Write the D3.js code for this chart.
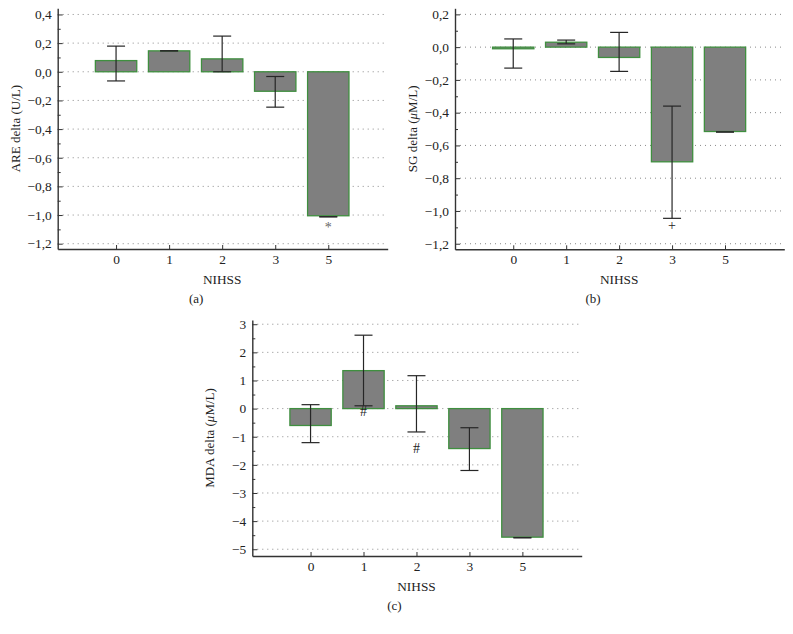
<!DOCTYPE html>
<html>
<head>
<meta charset="utf-8">
<script src="https://cdn.jsdelivr.net/npm/d3@7"></script>
<style>
  body { margin: 0; background: #fff; }
  text { font-family: "Liberation Serif", "DejaVu Serif", serif; }
</style>
</head>
<body>
<div id="vis"></div>
<script>
// categories on the x axis
const NIHSS = ["0", "1", "2", "3", "5"];

// ARE delta (U/L): bar value, error low, error high
const ARE_MEAN = [0.078, 0.146, 0.09, -0.136, -1.005];
const ARE_LOW  = [-0.064, 0.146, 0.0, -0.247, -1.012];
const ARE_HIGH = [0.179, 0.146, 0.249, -0.033, -1.012];
const ARE_MARK = ["", "", "", "", "*"];
const ARE_MARK_AT = [0, 0, 0, 0, -1.115];
const ARE_TICKS = [0.4, 0.2, 0.0, -0.2, -0.4, -0.6, -0.8, -1.0, -1.2];

// SG delta (uM/L)
const SG_MEAN = [-0.01, 0.03, -0.063, -0.70, -0.515];
const SG_LOW  = [-0.128, 0.02, -0.148, -1.045, -0.518];
const SG_HIGH = [0.05, 0.043, 0.09, -0.36, -0.518];
const SG_MARK = ["", "", "", "+", ""];
const SG_MARK_AT = [0, 0, 0, -1.116, 0];
const SG_TICKS = [0.2, 0.0, -0.2, -0.4, -0.6, -0.8, -1.0, -1.2];

// MDA delta (uM/L)
const MDA_MEAN = [-0.6, 1.35, 0.1, -1.42, -4.57];
const MDA_LOW  = [-1.21, 0.1, -0.83, -2.2, -4.59];
const MDA_HIGH = [0.14, 2.61, 1.17, -0.68, -4.59];
const MDA_MARK = ["", "#", "#", "", ""];
const MDA_MARK_AT = [0, -0.26, -1.58, 0, 0];
const MDA_TICKS = [3, 2, 1, 0, -1, -2, -3, -4, -5];

const W = 793, H = 634;
const BAR_W = 0.78;   // in category units
const CAP = 9;        // half width of error caps, px

const svg = d3.select("#vis").append("svg")
    .attr("width", W)
    .attr("height", H);

function fmt(v, dec) {
    return v.toFixed(dec).replace(".", ",").replace("-", "\u2212");
}

function drawPanel(p) {
    const X = d3.scaleLinear().domain([-1.1, 5.12]).range([p.left, p.right]);
    const Y = d3.scaleLinear().domain(p.ydom).range([p.bottom, p.top]);
    const g = svg.append("g");

    // dotted grid at the labelled ticks
    g.selectAll("line.grid")
        .data(p.ticks)
        .enter().append("line")
        .attr("class", "grid")
        .attr("x1", p.left).attr("x2", p.right)
        .attr("y1", (d) => Y(d)).attr("y2", (d) => Y(d))
        .attr("stroke", "#8a8a8a")
        .attr("stroke-width", 1)
        .attr("stroke-dasharray", "1,4");

    const rows = NIHSS.map((c, i) => ({i: i, m: p.mean[i], lo: p.low[i], hi: p.high[i],
                                        mark: p.mark[i], at: p.markAt[i]}));

    // bars
    g.selectAll("rect.bar")
        .data(rows)
        .enter().append("rect")
        .attr("class", "bar")
        .attr("x", (d) => X(d.i - BAR_W / 2))
        .attr("width", X(BAR_W) - X(0))
        .attr("y", (d) => Y(Math.max(0, d.m)))
        .attr("height", (d) => Math.max(1, Math.abs(Y(d.m) - Y(0))))
        .attr("fill", "#7f7f7f")
        .attr("stroke", "#3f8f3f")
        .attr("stroke-width", 1.3);

    // error bars
    const eb = g.selectAll("g.err").data(rows).enter().append("g").attr("class", "err")
        .attr("stroke", "#262626").attr("stroke-width", 1.2);
    eb.append("line")
        .attr("x1", (d) => X(d.i)).attr("x2", (d) => X(d.i))
        .attr("y1", (d) => Y(d.lo)).attr("y2", (d) => Y(d.hi));
    eb.append("line")
        .attr("x1", (d) => X(d.i) - CAP).attr("x2", (d) => X(d.i) + CAP)
        .attr("y1", (d) => Y(d.lo)).attr("y2", (d) => Y(d.lo));
    eb.append("line")
        .attr("x1", (d) => X(d.i) - CAP).attr("x2", (d) => X(d.i) + CAP)
        .attr("y1", (d) => Y(d.hi)).attr("y2", (d) => Y(d.hi));

    // significance marks
    g.selectAll("text.mark")
        .data(rows.filter((d) => d.mark != ""))
        .enter().append("text")
        .attr("class", "mark")
        .attr("x", (d) => X(d.i))
        .attr("y", (d) => Y(d.at))
        .attr("text-anchor", "middle")
        .attr("font-size", "14px")
        .attr("fill", (d) => d.mark == "*" ? "#666" : "#222")
        .text((d) => d.mark);

    // y axis, minor ticks then major
    const minor = d3.range(p.minor[0], p.minor[1] + 1e-9, p.minor[2]);
    g.append("g")
        .attr("transform", "translate(" + p.left + ",0)")
        .call(d3.axisLeft(Y).tickValues(minor).tickSize(-3).tickSizeOuter(0).tickFormat(""))
        .call((a) => a.select(".domain").remove())
        .selectAll("line").attr("stroke", "#333");
    const ya = g.append("g")
        .attr("transform", "translate(" + p.left + ",0)")
        .call(d3.axisLeft(Y).tickValues(p.ticks).tickSize(-5).tickSizeOuter(0).tickPadding(6)
            .tickFormat((d) => fmt(d, p.dec)));
    ya.select(".domain").attr("stroke", "#333").attr("stroke-width", 1.4);
    ya.selectAll("line").attr("stroke", "#333");
    ya.selectAll("text").attr("font-size", "13.4px").attr("fill", "#222")
        .style("font-family", "'Liberation Serif', serif");

    // x axis
    const xa = g.append("g")
        .attr("transform", "translate(0," + p.bottom + ")")
        .call(d3.axisBottom(X).tickValues(d3.range(NIHSS.length)).tickSize(-4).tickSizeOuter(0)
            .tickPadding(5).tickFormat((d) => NIHSS[d]));
    xa.select(".domain").attr("stroke", "#333").attr("stroke-width", 1.4);
    xa.selectAll("line").attr("stroke", "#333");
    xa.selectAll("text").attr("font-size", "13.4px").attr("fill", "#222")
        .style("font-family", "'Liberation Serif', serif");

    // titles
    const mid = X(2);
    g.append("text")
        .attr("x", mid).attr("y", p.bottom + 35)
        .attr("text-anchor", "middle")
        .attr("font-size", "13.3px").attr("fill", "#222")
        .text("NIHSS");
    g.append("text")
        .attr("x", mid + p.tagShift).attr("y", p.bottom + 54)
        .attr("text-anchor", "middle")
        .attr("font-size", "13px").attr("fill", "#222")
        .text(p.tag);

    const yt = g.append("text")
        .attr("transform", "translate(" + (p.left - 38) + "," + ((p.top + p.bottom) / 2) + ") rotate(-90)")
        .attr("text-anchor", "middle")
        .attr("font-size", "13px").attr("fill", "#222");
    yt.append("tspan").text(p.ytitle[0]);
    if (p.ytitle.length > 1) {
        yt.append("tspan").attr("font-style", "italic").text(p.ytitle[1]);
        yt.append("tspan").text(p.ytitle[2]);
    }
}

drawPanel({left: 57.7, right: 387.7, top: 8.3, bottom: 249, ydom: [-1.237, 0.443],
    ticks: ARE_TICKS, minor: [-1.1, 0.3, 0.2], dec: 1,
    mean: ARE_MEAN, low: ARE_LOW, high: ARE_HIGH, mark: ARE_MARK, markAt: ARE_MARK_AT,
    ytitle: ["ARE delta (U/L)"], tag: "(a)", tagShift: -26});

drawPanel({left: 455, right: 784.3, top: 8.3, bottom: 249.3, ydom: [-1.234, 0.237],
    ticks: SG_TICKS, minor: [-1.1, 0.1, 0.2], dec: 1,
    mean: SG_MEAN, low: SG_LOW, high: SG_HIGH, mark: SG_MARK, markAt: SG_MARK_AT,
    ytitle: ["SG delta (", "\u03bc", "M/L)"], tag: "(b)", tagShift: -26});

drawPanel({left: 252.3, right: 581.7, top: 320, bottom: 556, ydom: [-5.24, 3.15],
    ticks: MDA_TICKS, minor: [-4.5, 2.5, 1], dec: 0,
    mean: MDA_MEAN, low: MDA_LOW, high: MDA_HIGH, mark: MDA_MARK, markAt: MDA_MARK_AT,
    ytitle: ["MDA delta (", "\u03bc", "M/L)"], tag: "(c)", tagShift: -22});
</script>
</body>
</html>
